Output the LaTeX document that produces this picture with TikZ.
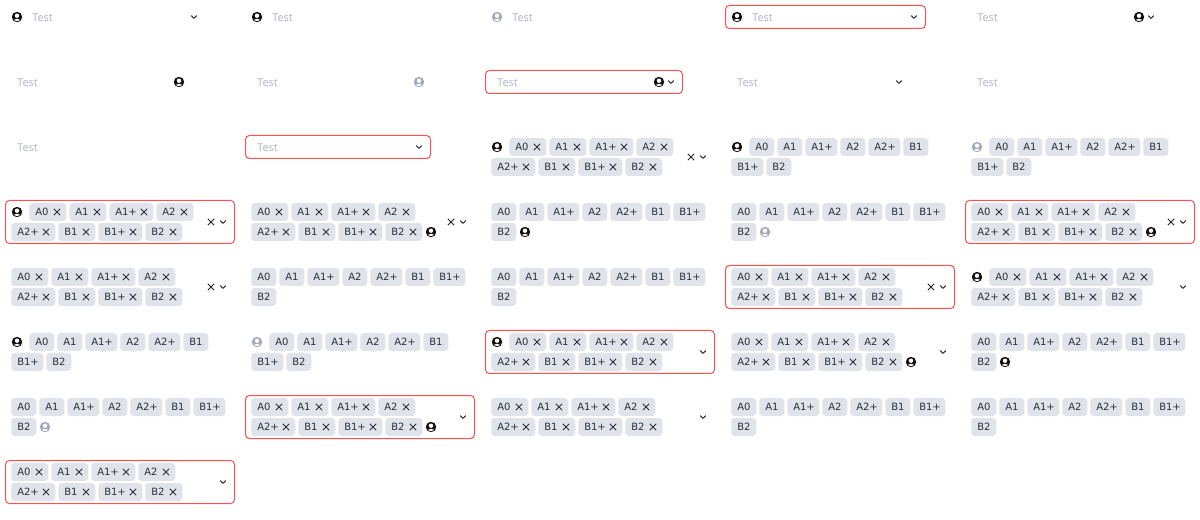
\documentclass[tikz,border=0pt]{standalone}
\usepackage{fontspec}
\setmainfont{DejaVu Sans}
\newfontfamily\testfont{Noto Sans}
\definecolor{chipbg}{HTML}{E0E3EA}
\definecolor{chiptext}{HTML}{2B2F38}
\definecolor{placeholder}{HTML}{B4B6C8}
\definecolor{errred}{HTML}{FA5252}
\definecolor{usergray}{HTML}{A5A8BE}
\definecolor{usrblack}{HTML}{111111}
\newcount\nid
\tikzset{
  x=0.75pt,y=-0.75pt,
  chipbox/.style={fill=chipbg,rounded corners=2.6pt,inner sep=0pt,minimum height=13.5pt,anchor=west,text=chiptext,font=\fontsize{7.5pt}{9pt}\selectfont},
  errbox/.style={draw=errred,line width=0.75pt,rounded corners=3pt,fill=white},
  ph/.style={text=placeholder,anchor=west,inner sep=0pt,font=\testfont\fontsize{8.1pt}{10pt}\selectfont},
  markx/.style={draw=chiptext,line width=0.7pt},
  chev/.style={draw=chiptext,line width=0.8pt,line cap=round,line join=round},
}
% chip with text only
\newcommand{\chipn}[4]{% x,y,label,width
  \global\advance\nid by 1
  \node[chipbox,minimum width=#4*0.75pt] (n\the\nid) at (#1,#2) {\makebox[\dimexpr #4pt*3/4\relax][l]{\hspace{4.5pt}\raisebox{-0.3pt}{#3}}};}
% chip with cross
\newcommand{\chipx}[4]{%
  \global\advance\nid by 1
  \node[chipbox,minimum width=#4*0.75pt] (n\the\nid) at (#1,#2) {\makebox[\dimexpr #4pt*3/4\relax][l]{\hspace{4.5pt}\raisebox{-0.3pt}{#3}}};
  \draw[markx] ([xshift=-9.6pt,yshift=2.4pt]n\the\nid.east) -- ([xshift=-4.8pt,yshift=-2.4pt]n\the\nid.east)
               ([xshift=-9.6pt,yshift=-2.4pt]n\the\nid.east) -- ([xshift=-4.8pt,yshift=2.4pt]n\the\nid.east);}
% user icon centre x,y colour
\newcommand{\usr}[3]{%
  \fill[#3] (#1,#2) circle[radius=5.2];
  \fill[white] (#1,#2-1.3) circle[radius=2.2];
  \begin{scope}
    \clip (#1,#2) circle[radius=4.2];
    \fill[white] (#1,#2+5.0) ellipse[x radius=4.0,y radius=3.2];
  \end{scope}}
\newcommand{\chv}[2]{\draw[chev] (#1-2.5,#2-1.2) -- (#1,#2+1.3) -- (#1+2.5,#2-1.2);}
\newcommand{\clr}[2]{\draw[markx,draw=black!85] (#1-3.2,#2-3.2) -- (#1+3.2,#2+3.2) (#1-3.2,#2+3.2) -- (#1+3.2,#2-3.2);}
\newcommand{\tst}[2]{\global\advance\nid by 1 \node[ph] (n\the\nid) at (#1,#2+0.6) {Test};}
\newcommand{\ebox}[4]{\draw[errbox] (#1,#2) rectangle (#3,#4);}
% rows: x y (centre of chip row)
\newcommand{\xA}[2]{\chipx{#1}{#2}{A0}{37}\chipx{#1+40}{#2}{A1}{37}\chipx{#1+80}{#2}{A1+}{44}\chipx{#1+127}{#2}{A2}{37}}
\newcommand{\xB}[2]{\chipx{#1}{#2}{A2+}{44}\chipx{#1+47}{#2}{B1}{37}\chipx{#1+87}{#2}{B1+}{44}\chipx{#1+134}{#2}{B2}{37}}
\newcommand{\nS}[2]{\chipn{#1}{#2}{A0}{25}\chipn{#1+28}{#2}{A1}{25}\chipn{#1+56}{#2}{A1+}{32}\chipn{#1+91}{#2}{A2}{25}\chipn{#1+119}{#2}{A2+}{32}\chipn{#1+154}{#2}{B1}{25}}
\newcommand{\nSeven}[2]{\nS{#1}{#2}\chipn{#1+182}{#2}{B1+}{32}}
\newcommand{\nTail}[2]{\chipn{#1}{#2}{B1+}{32}\chipn{#1+35}{#2}{B2}{25}}
\begin{document}
\begin{tikzpicture}
\useasboundingbox (0,0) rectangle (1200,520);
\fill[white] (0,0) rectangle (1200,520);
% ---- row 0
\usr{17}{17}{usrblack}\tst{32}{17}\chv{194}{17}
\usr{257}{17}{usrblack}\tst{272}{17}
\usr{497}{17}{usergray}\tst{512}{17}
\ebox{725.5}{5.5}{925.5}{28.5}\usr{737}{17}{usrblack}\tst{752}{17}\chv{914}{17}
\tst{977}{17}\usr{1139}{17}{usrblack}\chv{1151}{17}
% ---- row 1
\tst{17}{82}\usr{179}{82}{usrblack}
\tst{257}{82}\usr{419}{82}{usergray}
\ebox{485.5}{70.5}{682.5}{93.5}\tst{497}{82}\usr{659}{82}{usrblack}\chv{671}{82}
\tst{737}{82}\chv{899}{82}
\tst{977}{82}
% ---- row 2
\tst{17}{147}
\ebox{245.5}{135.5}{430.5}{158.5}\tst{257}{147}\chv{419}{147}
\usr{497}{147}{usrblack}\xA{509}{147}\xB{491}{167}\clr{691}{157}\chv{703}{157}
\usr{737}{147}{usrblack}\nS{749}{147}\nTail{731}{167}
\usr{977}{147}{usergray}\nS{989}{147}\nTail{971}{167}
% ---- row 3
\ebox{5.5}{200.5}{234.5}{243.5}\usr{17}{212}{usrblack}\xA{29}{212}\xB{11}{232}\clr{211}{222}\chv{223}{222}
\xA{251}{212}\xB{251}{232}\usr{431}{232}{usrblack}\clr{451}{222}\chv{463}{222}
\nSeven{491}{212}\chipn{491}{232}{B2}{25}\usr{525}{232}{usrblack}
\nSeven{731}{212}\chipn{731}{232}{B2}{25}\usr{765}{232}{usergray}
\ebox{965.5}{200.5}{1194.5}{243.5}\xA{971}{212}\xB{971}{232}\usr{1151}{232}{usrblack}\clr{1171}{222}\chv{1183}{222}
% ---- row 4
\xA{11}{277}\xB{11}{297}\clr{211}{287}\chv{223}{287}
\nSeven{251}{277}\chipn{251}{297}{B2}{25}
\nSeven{491}{277}\chipn{491}{297}{B2}{25}
\ebox{725.5}{265.5}{954.5}{308.5}\xA{731}{277}\xB{731}{297}\clr{931}{287}\chv{943}{287}
\usr{977}{277}{usrblack}\xA{989}{277}\xB{971}{297}\chv{1183}{287}
% ---- row 5
\usr{17}{342}{usrblack}\nS{29}{342}\nTail{11}{362}
\usr{257}{342}{usergray}\nS{269}{342}\nTail{251}{362}
\ebox{485.5}{330.5}{714.5}{373.5}\usr{497}{342}{usrblack}\xA{509}{342}\xB{491}{362}\chv{703}{352}
\xA{731}{342}\xB{731}{362}\usr{911}{362}{usrblack}\chv{943}{352}
\nSeven{971}{342}\chipn{971}{362}{B2}{25}\usr{1005}{362}{usrblack}
% ---- row 6
\nSeven{11}{407}\chipn{11}{427}{B2}{25}\usr{45}{427}{usergray}
\ebox{245.5}{395.5}{474.5}{438.5}\xA{251}{407}\xB{251}{427}\usr{431}{427}{usrblack}\chv{463}{417}
\xA{491}{407}\xB{491}{427}\chv{703}{417}
\nSeven{731}{407}\chipn{731}{427}{B2}{25}
\nSeven{971}{407}\chipn{971}{427}{B2}{25}
% ---- row 7
\ebox{5.5}{460.5}{234.5}{503.5}\xA{11}{472}\xB{11}{492}\chv{223}{482}
\end{tikzpicture}
\end{document}
